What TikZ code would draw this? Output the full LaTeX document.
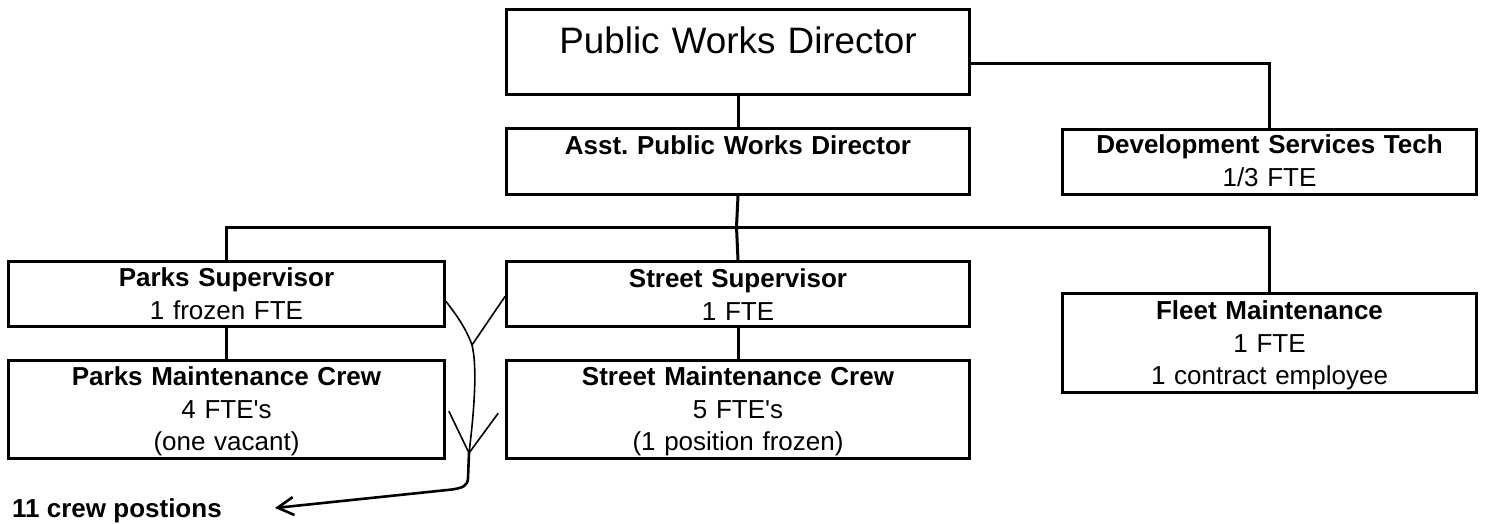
\documentclass[tikz,border=0pt]{standalone}
\usepackage{fontspec}
\setmainfont{Liberation Sans}[Ligatures=TeXOff]
\usetikzlibrary{arrows.meta}
\frenchspacing
\begin{document}
\begin{tikzpicture}[x=1pt, y=-1pt,
  box/.style={draw, line width=3pt, inner sep=0pt, anchor=north west, align=center,
    font=\fontsize{26}{32.5}\selectfont},
  link/.style={line width=3pt},
  pen/.style={line width=1.6pt, line cap=round, line join=round},
  boldpen/.style={line width=2.6pt, line cap=round, line join=round}]
\useasboundingbox (0,0) rectangle (1508,523);

% org chart boxes
\node[box, text width=463pt, text height=44pt, text depth=41pt,
      font=\fontsize{36.8}{40}\selectfont] (pwd) at (505,8) {Public Works Director};
\node[box, text width=463pt, text height=26pt, text depth=40pt] (asst) at (505,127)
  {\textbf{Asst. Public Works Director}};
\node[box, text width=414pt, text height=24pt, text depth=41pt] (dev) at (1061,128)
  {\textbf{Development Services Tech}\\1/3 FTE};
\node[box, text width=436pt, text height=25pt, text depth=40pt] (parkssup) at (7,260)
  {\textbf{Parks Supervisor}\\1 frozen FTE};
\node[box, text width=436pt, text height=25pt, text depth=73pt] (parkscrew) at (7,359)
  {\textbf{Parks Maintenance Crew}\\4 FTE's\\(one vacant)};
\node[box, text width=463pt, text height=26pt, text depth=39pt] (streetsup) at (505,260)
  {\textbf{Street Supervisor}\\1 FTE};
\node[box, text width=463pt, text height=25pt, text depth=73pt] (streetcrew) at (505,359)
  {\textbf{Street Maintenance Crew}\\5 FTE's\\(1 position frozen)};
\node[box, text width=414pt, text height=26pt, text depth=73pt] (fleet) at (1061,292)
  {\textbf{Fleet Maintenance}\\1 FTE\\1 contract employee};

% reporting lines
\coordinate (bus) at (736.5,227);
\draw[link] (pwd.south) -- (asst.north);
\draw[link] ([yshift=-11.5pt]pwd.east) -| (dev.north);
\draw[link] (asst.south) -- (bus);
\draw[link] (parkssup.north) |- (bus) -| (fleet.north);
\draw[link] (bus) -- (streetsup.north);
\draw[link] (parkssup.south) -- (parkscrew.north);
\draw[link] (streetsup.south) -- (streetcrew.north);

% crew tally note
\node[anchor=base west, inner sep=0pt, font=\fontsize{26}{32.5}\selectfont\bfseries]
  (crew) at (12,517) {11 crew postions};
\coordinate (j1) at (472,345);
\coordinate (j2) at (469,453);
\coordinate (tip) at (275,508);
\draw[pen] ([yshift=-7.5pt]parkssup.east) .. controls (455,313) and (466,328) .. (j1)
  .. controls (477,365) and (475,405) .. (j2);
\draw[pen] ([yshift=-2.5pt]streetsup.west) -- (j1);
\draw[pen] ([xshift=3pt,yshift=-2pt]parkscrew.east) -- (j2);
\draw[pen] ([xshift=-7pt,yshift=-4pt]streetcrew.west) -- (j2);
\draw[boldpen, -{Straight Barb[length=16pt,width=18pt]}] (j2) -- (468,478)
  .. controls (468,486) and (462,488) .. (452,489.5) -- (tip);
\end{tikzpicture}
\end{document}
